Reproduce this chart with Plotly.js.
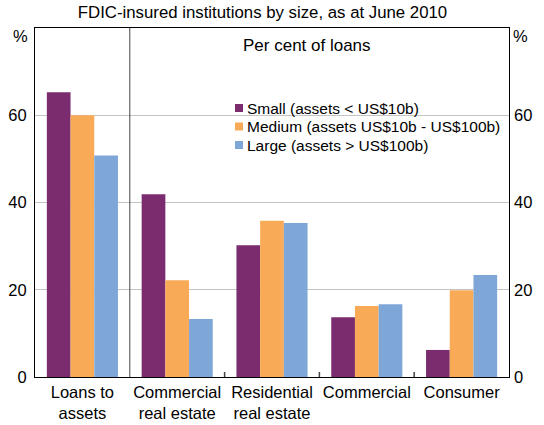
<!DOCTYPE html>
<html>
<head>
<meta charset="utf-8">
<script src="https://cdn.plot.ly/plotly-3.0.1.min.js"></script>
<style>html,body{margin:0;padding:0;background:#fff;}#chart{width:544px;height:425px;}</style>
</head>
<body>
<div id="chart"></div>
<script>
// ---- Data ----
const categories = ["Loans to<br>assets", "Commercial<br>real estate", "Residential<br>real estate", "Commercial", "Consumer"];
const seriesNames = ["Small (assets < US$10b)", "Medium (assets US$10b - US$100b)", "Large (assets > US$100b)"];
const smallValues = [65.3, 41.9, 30.2, 13.7, 6.2];
const mediumValues = [60.0, 22.2, 35.8, 16.3, 19.9];
const largeValues = [50.8, 13.3, 35.3, 16.7, 23.4];
const yTicks = [0, 20, 40, 60];

const colors = ["#7a2c6e", "#f9aa57", "#7ea7d8"];
const seriesValues = [smallValues, mediumValues, largeValues];
const FONT = "Arial, 'Liberation Sans', sans-serif";

// plot area in pixels: x 35..509, y 28..377
const L = 35, R = 509, T = 28, B = 377;
const px2x = p => (p - L) / (R - L);
const py2y = p => (B - p) / (B - T);

const traces = seriesNames.map((name, i) => ({
  type: "bar",
  name: name,
  x: categories,
  y: seriesValues[i],
  marker: {color: colors[i], line: {width: 0}},
  showlegend: false,
  hoverinfo: "x+y+name"
}));
// invisible trace to activate right axis
traces.push({type: "scatter", x: [categories[0]], y: [0], yaxis: "y2", mode: "markers",
  marker: {opacity: 0}, showlegend: false, hoverinfo: "skip"});

const shapes = [];
// separator after first group
shapes.push({type: "line", xref: "x", yref: "paper", x0: 0.5, x1: 0.5, y0: 0, y1: 1,
  line: {color: "#444", width: 1}});
// small category ticks at group boundaries
for (let k = 1; k < categories.length - 1; k++) {
  shapes.push({type: "line", xref: "x", yref: "paper", x0: k + 0.5, x1: k + 0.5, y0: 0, y1: 5 / (B - T),
    line: {color: "#444", width: 1.5}});
}
const annotations = [
  {text: "Per cent of loans", xref: "paper", yref: "paper", x: px2x(306.5), y: py2y(45),
   xanchor: "center", yanchor: "middle", showarrow: false, font: {family: FONT, size: 17, color: "#000"}},
  {text: "%", xref: "paper", yref: "paper", x: px2x(20.5), y: py2y(36),
   xanchor: "center", yanchor: "middle", showarrow: false, font: {family: FONT, size: 16.5, color: "#000"}},
  {text: "%", xref: "paper", yref: "paper", x: px2x(520), y: py2y(36),
   xanchor: "center", yanchor: "middle", showarrow: false, font: {family: FONT, size: 16.5, color: "#000"}}
];
// legend drawn in layout
const legRows = [108, 126.5, 145];
seriesNames.forEach((name, i) => {
  shapes.push({type: "rect", xref: "paper", yref: "paper",
    x0: px2x(235), x1: px2x(243), y0: py2y(legRows[i] + 4), y1: py2y(legRows[i] - 4),
    fillcolor: colors[i], line: {width: 0}});
  annotations.push({text: name, xref: "paper", yref: "paper", x: px2x(245), y: py2y(legRows[i]),
    xanchor: "left", yanchor: "middle", showarrow: false, font: {family: FONT, size: 15.5, color: "#000"}});
});

const layout = {
  width: 544, height: 425,
  margin: {l: L, r: 544 - R, t: T, b: 425 - B, pad: 0},
  paper_bgcolor: "#fff", plot_bgcolor: "#fff",
  font: {family: FONT, size: 16, color: "#000"},
  title: {text: "FDIC-insured institutions by size, as at June 2010", font: {family: FONT, size: 16.8, color: "#000"},
    x: 262.5 / 544, xref: "container", xanchor: "center", y: 1 - 12 / 425, yref: "container", yanchor: "middle"},
  barmode: "group", bargap: 0.25, bargroupgap: 0,
  showlegend: false,
  xaxis: {type: "category", range: [-0.5, categories.length - 0.5], showline: true, mirror: true,
    linecolor: "#000", linewidth: 1, ticks: "", showgrid: false, zeroline: false,
    tickfont: {family: FONT, size: 16.5, color: "#000"}, fixedrange: true},
  yaxis: {range: [0, 80], tickvals: yTicks, ticktext: yTicks.map(String), showline: true, mirror: true,
    linecolor: "#000", linewidth: 1, ticks: "", showgrid: true, gridcolor: "#c4c4c4", gridwidth: 1,
    zeroline: false, ticklabelstandoff: 4, tickfont: {family: FONT, size: 16.5, color: "#000"}, fixedrange: true},
  yaxis2: {range: [0, 80], tickvals: yTicks, ticktext: yTicks.map(String), overlaying: "y", side: "right",
    showline: false, showgrid: false, zeroline: false, ticks: "", ticklabelstandoff: 4,
    tickfont: {family: FONT, size: 16.5, color: "#000"}, fixedrange: true},
  shapes: shapes,
  annotations: annotations
};

Plotly.newPlot("chart", traces, layout, {displayModeBar: false, staticPlot: true});
</script>
</body>
</html>
